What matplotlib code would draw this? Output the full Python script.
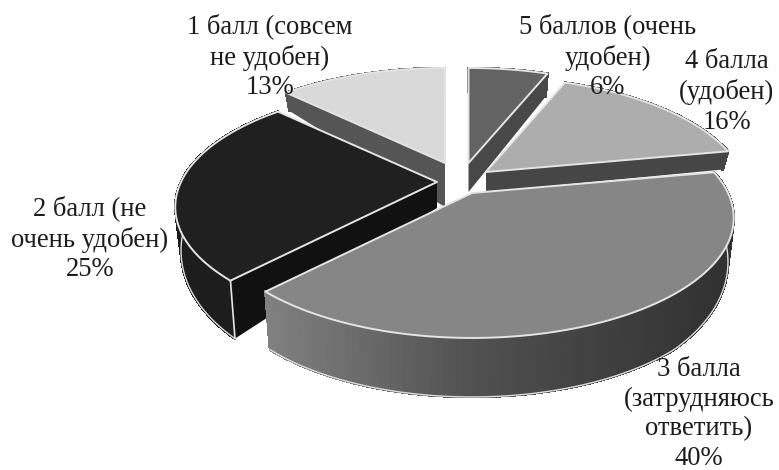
import numpy as np
import matplotlib
matplotlib.use("Agg")
import matplotlib.pyplot as plt
from matplotlib.collections import PolyCollection

# ---- data ----
categories = ["5 баллов (очень\nудобен)", "4 балла\n(удобен)", "3 балла\n(затрудняюсь\nответить)",
              "2 балл (не\nочень удобен)", "1 балл (совсем\nне удобен)"]
values = [6, 16, 40, 25.4, 12.6]

# ---- style / layout ----
plt.rcParams['font.family'] = ['Liberation Serif', 'DejaVu Serif']
top_col = ['#636363', '#adadad', '#868686', '#202020', '#d9d9d9']
wall_col = ['#484848', '#464646', '#6a6a6a', '#111111', '#555555']
apex = [(468.5, 163), (486, 172), (472, 193), (437, 182), (445, 163)]
apex_thick = [29, 20, 20, 26, 44]
draw_order = [4, 0, 1, 3, 2]
label_pos = [(608, 57), (727, 92), (699, 414), (90, 239), (270, 57)]
K, CR, R = 0.208, 114.8, 256.0
Y_PTS = [-1, -.73, 0, .19, .68, .93, 1]
T_PTS = [59, 58, 38, 18, 18, 23, 24]
EDGE = '#e4e4e4'


def rim(theta_deg):
    """theta clockwise from top; returns offsets on the perspective ellipse."""
    t = np.radians(theta_deg)
    X, Y = np.sin(t), np.cos(t)
    s = 1 / (1 + K * Y)
    return X * s * R, -Y * s * CR, Y


fig = plt.figure(figsize=(7.79, 4.70), dpi=100)
ax = fig.add_axes([0, 0, 1, 1])
ax.set_xlim(0, 779)
ax.set_ylim(470, 0)
ax.axis('off')

edges = np.concatenate([[0], np.cumsum(values)]) / np.sum(values) * 360.0

for i in draw_order:
    th = np.linspace(edges[i], edges[i + 1], 120)
    dx, dy, Y = rim(th)
    ax_, ay_ = apex[i]
    tx, ty = ax_ + dx, ay_ + dy
    thick = np.interp(Y, Y_PTS, T_PTS)
    bx, by = ax_ + dx * 0.978, ay_ + dy + thick
    a_b = ay_ + apex_thick[i]
    z = 2 + draw_order.index(i)

    # radial walls
    for k in (0, -1):
        poly = [(ax_, ay_), (tx[k], ty[k]), (bx[k], by[k]), (ax_, a_b)]
        ax.fill(*zip(*poly), color=wall_col[i], lw=0, zorder=z)

    # curved outer wall
    quads = [[(tx[j], ty[j]), (tx[j + 1], ty[j + 1]), (bx[j + 1], by[j + 1]), (bx[j], by[j])]
             for j in range(len(th) - 1)]
    if i == 2:
        g = np.interp((tx[:-1] - 268) / 465, [0, .45, 1], [0x80, 0x50, 0x30]) / 255
        cols = [(v, v, v) for v in g]
    elif i == 3:
        cols = ['#1d1d1d'] * len(quads)
    else:
        cols = [wall_col[i]] * len(quads)
    ax.add_collection(PolyCollection(quads, facecolors=cols, edgecolors=cols, linewidths=1.2,
                                     antialiaseds=False, zorder=z))
    if i in (2, 3):
        ax.plot(bx, by, color='#dddddd', lw=1.0, zorder=z)
        k = 0
        ax.plot([tx[k], bx[k]], [ty[k], by[k]], color=EDGE, lw=1.2, zorder=z)

    # top face
    px = np.concatenate([[ax_], tx])
    py = np.concatenate([[ay_], ty])
    ax.fill(px, py, facecolor=top_col[i], edgecolor=EDGE, lw=1.4, joinstyle='round', zorder=z + .5)

for name, val, (x, y) in zip(categories, values, label_pos):
    ax.text(x, y, f"{name}\n{val:.0f}%", ha='center', va='center', fontsize=19.2,
            color='#1c1c1c', linespacing=1.25, zorder=50)

fig.savefig("out.png", dpi=100, facecolor='white')
